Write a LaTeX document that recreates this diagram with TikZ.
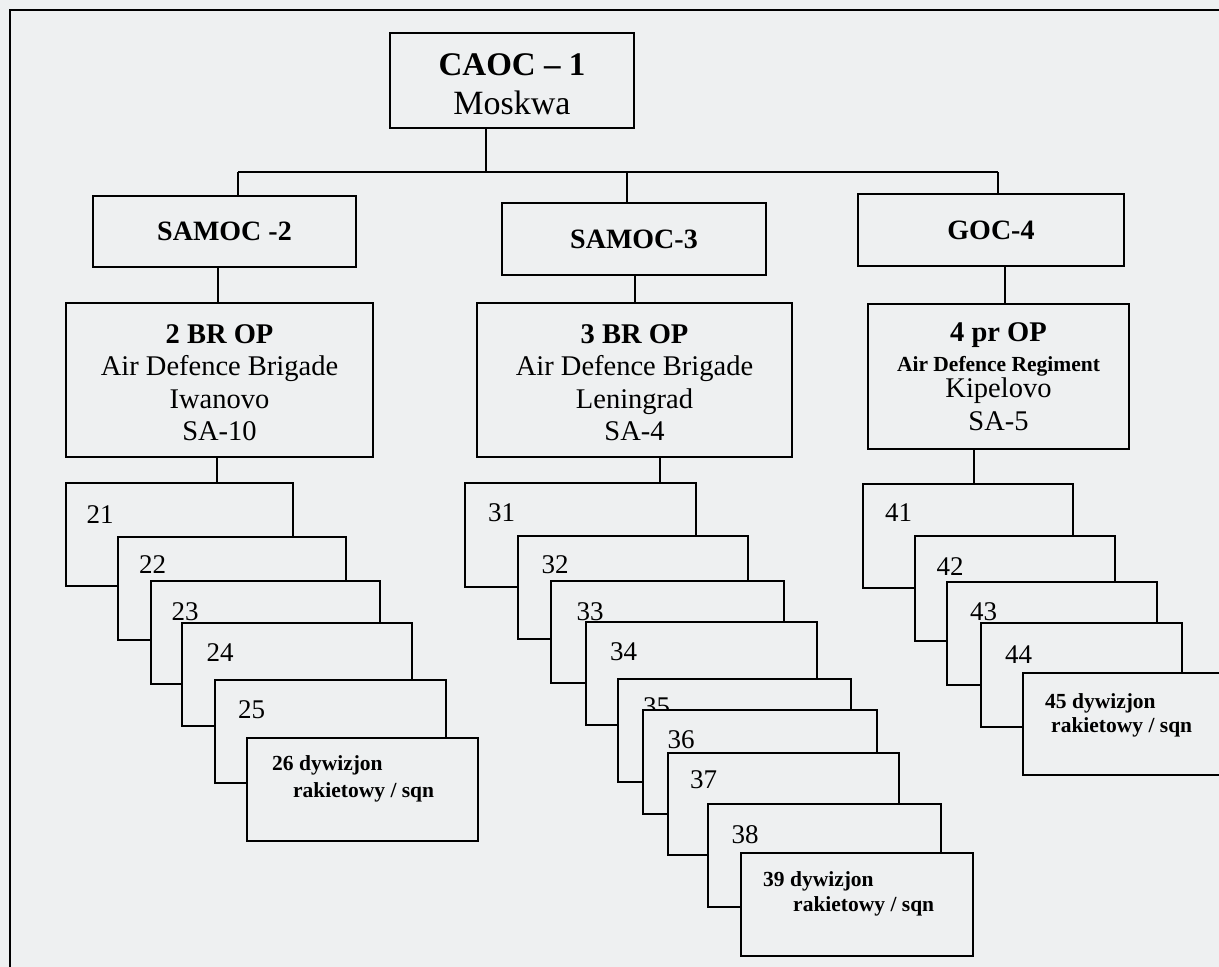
\documentclass[tikz,border=0pt]{standalone}
\usepackage{fontspec}
\setmainfont{Liberation Serif}
\usetikzlibrary{calc}
\definecolor{paper}{RGB}{238,240,241}
\newcommand\nbox[7][]{\node[box, #1, minimum width={(#5)-(#3)}, minimum height={(#6)-(#4)}] (#2) at ({((#3)+(#5))/2},{((#4)+(#6))/2}) {#7};}
\begin{document}
\begin{tikzpicture}[x=1pt,y=-1pt,
  box/.style={draw=black, line width=2pt, fill=paper, inner sep=0pt, align=center},
  conn/.style={line width=1.8pt},
  big/.style={font=\fontsize{28.5}{32.5}\selectfont},
  hdr/.style={font=\bfseries\fontsize{28}{32}\selectfont},
  num/.style={font=\fontsize{27}{30}\selectfont, inner sep=0pt},
  sqn/.style={font=\bfseries\fontsize{21.5}{26}\selectfont, inner sep=0pt, anchor=base west}]
\fill[paper] (0,0) rectangle (1219,967);
\useasboundingbox (0,0) rectangle (1219,967);
\draw[line width=2pt] (1219,10) -- (10,10) -- (10,967);

% top level
\nbox[font=\fontsize{34}{39}\selectfont]{caoc}{390}{33}{634}{128}{\rule{0pt}{30pt}{\bfseries\fontsize{33}{39}\selectfont CAOC -- 1}\\Moskwa}
\nbox[hdr]{s2}{93}{196}{356}{267}{SAMOC -2}
\nbox[hdr]{s3}{502}{203}{766}{275}{SAMOC-3}
\nbox[hdr]{g4}{858}{194}{1124}{266}{GOC-4}

\nbox[big]{br2}{66}{303}{373}{457}{\rule{0pt}{24pt}\textbf{2 BR OP}\\Air Defence Brigade\\Iwanovo\\SA-10}
\nbox[big]{br3}{477}{303}{792}{457}{\rule{0pt}{24pt}\textbf{3 BR OP}\\Air Defence Brigade\\Leningrad\\SA-4}
\nbox[big]{br4}{868}{304}{1129}{449}{\textbf{4 pr OP}\\[-3pt]{\bfseries\fontsize{21.5}{24}\selectfont Air Defence Regiment}\\[-6pt]Kipelovo\\SA-5}

% connectors
\coordinate (j0) at (486,172);
\coordinate (j2) at (238,172);
\coordinate (j3) at (627,172);
\coordinate (j4) at (998,172);
\draw[conn] ([xshift=-26pt]caoc.south) -- (j0);
\draw[conn] (j2) -- (j4);
\draw[conn] (j2) -- ([xshift=13.5pt]s2.north);
\draw[conn] (j3) -- ([xshift=-7pt]s3.north);
\draw[conn] (j4) -- ([xshift=7pt]g4.north);
\draw[conn] ([xshift=-6.5pt]s2.south) -- ([xshift=-1.5pt]br2.north);
\draw[conn] ([xshift=1pt]s3.south) -- ([xshift=0.5pt]br3.north);
\draw[conn] ([xshift=14pt]g4.south) -- ([xshift=6.5pt]br4.north);

% cascade 2
\nbox{b21}{66}{483}{293}{586}{}
\draw[conn] ([xshift=-2.5pt]br2.south) -- ([xshift=37.5pt]b21.north);
\node[num] (l21) at (100,515) {21};
\nbox{b22}{118}{537}{346}{640}{}
\node[num] (l22) at (152.5,565) {22};
\nbox{b23}{151}{581}{380}{684}{}
\node[num] (l23) at (185,612) {23};
\nbox{b24}{182}{623}{412}{726}{}
\node[num] (l24) at (220,653) {24};
\nbox{b25}{215}{680}{446}{783}{}
\node[num] (l25) at (251.5,710) {25};
\nbox{b26}{247}{738}{478}{841}{}
\node[sqn] (t26a) at (272,770) {26 dywizjon};
\node[sqn] (t26b) at (293,797) {rakietowy / sqn};

% cascade 3
\nbox{b31}{465}{483}{696}{587}{}
\draw[conn] ([xshift=25.5pt]br3.south) -- ([xshift=79.5pt]b31.north);
\node[num] (l31) at (501.5,513) {31};
\nbox{b32}{518}{536}{748}{639}{}
\node[num] (l32) at (555,565) {32};
\nbox{b33}{551}{581}{784}{683}{}
\node[num] (l33) at (590,612) {33};
\nbox{b34}{586}{622}{817}{725}{}
\node[num] (l34) at (623.5,652) {34};
\nbox{b35}{618}{679}{851}{782}{}
\node[num] (l35) at (656.5,707) {35};
\nbox{b36}{643}{710}{877}{814}{}
\node[num] (l36) at (681,740) {36};
\nbox{b37}{668}{753}{899}{855}{}
\node[num] (l37) at (703.5,780) {37};
\nbox{b38}{708}{804}{941}{907}{}
\node[num] (l38) at (745,835) {38};
\nbox{b39}{741}{853}{973}{956}{}
\node[sqn] (t39a) at (763,886) {39 dywizjon};
\node[sqn] (t39b) at (793,911) {rakietowy / sqn};

% cascade 4
\nbox{b41}{863}{484}{1073}{588}{}
\draw[conn] ([xshift=-24.5pt]br4.south) -- ([xshift=6pt]b41.north);
\node[num] (l41) at (898.5,513) {41};
\nbox{b42}{915}{536}{1115}{641}{}
\node[num] (l42) at (950,567) {42};
\nbox{b43}{947}{582}{1157}{685}{}
\node[num] (l43) at (983.5,612) {43};
\nbox{b44}{981}{623}{1182}{727}{}
\node[num] (l44) at (1018.5,655) {44};
\nbox{b45}{1023}{673}{1235}{775}{}
\node[sqn] (t45a) at (1045,708) {45 dywizjon};
\node[sqn] (t45b) at (1051,732) {rakietowy / sqn};
\end{tikzpicture}
\end{document}
